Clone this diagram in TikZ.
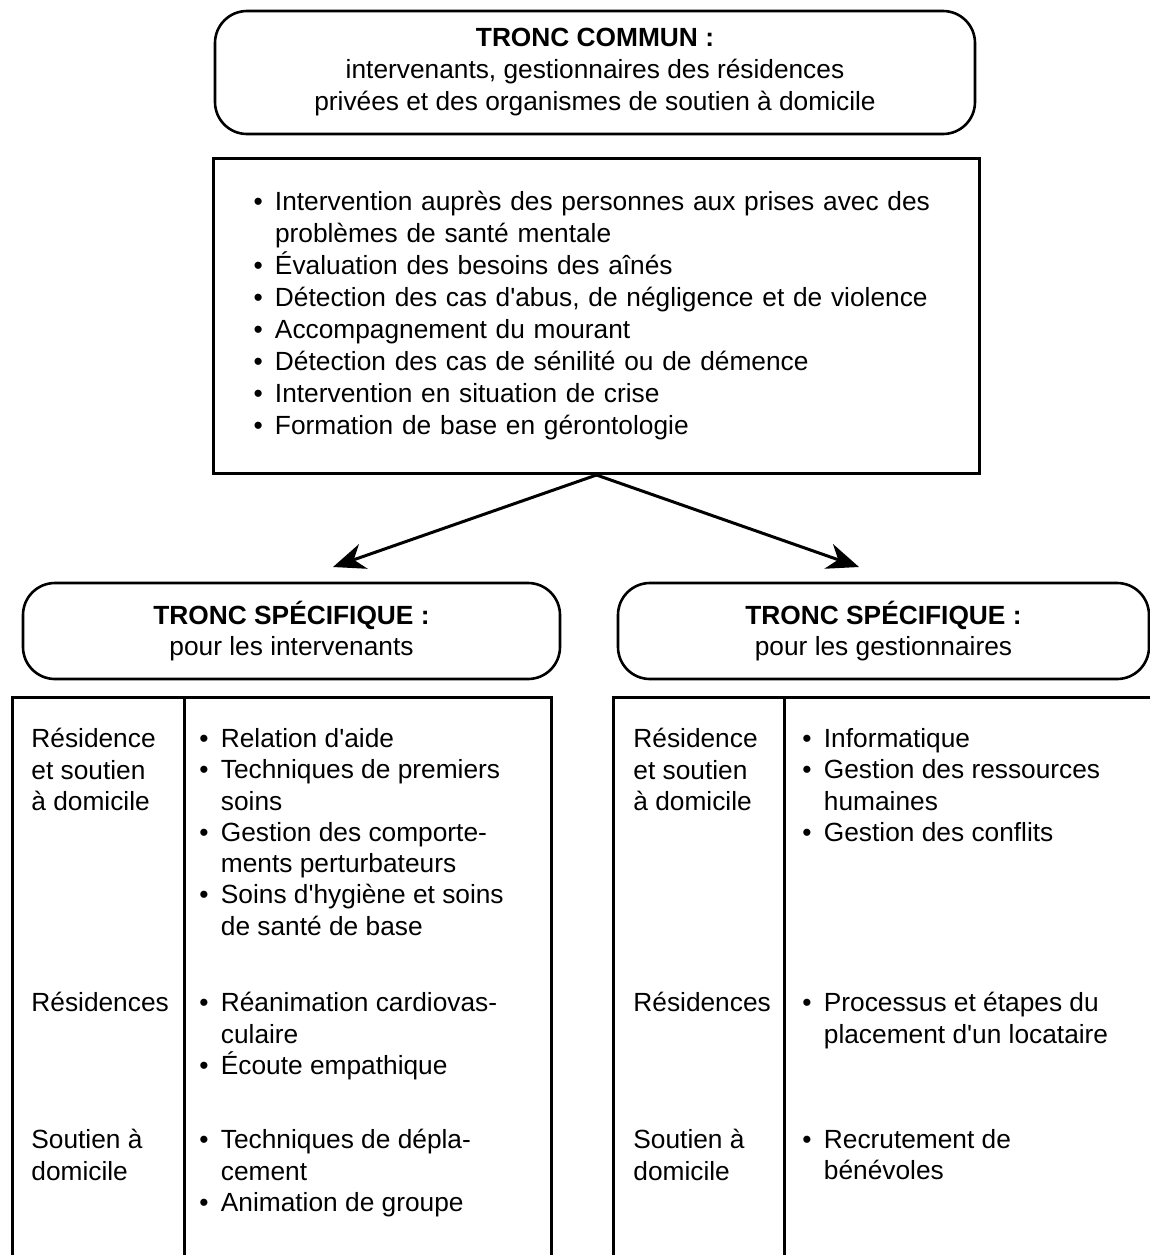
\documentclass[tikz,border=0pt]{standalone}
\usepackage{fontspec}
\setmainfont{Liberation Sans}
\usetikzlibrary{arrows.meta}

\tikzset{
  headbox/.style={draw, line width=1.3pt, rounded corners=16pt, align=center, inner sep=0pt},
  listbox/.style={draw, line width=1.5pt, align=left, inner ysep=0pt, inner xsep=20pt, anchor=north west},
  cell/.style={align=left, inner sep=0pt, anchor=north west},
  grid/.style={line width=1.5pt},
  flow/.style={line width=1.5pt, -{Stealth[length=16pt, width=13pt, inset=5pt]}},
}
\newcommand{\bul}{\makebox[10.75pt][l]{•}}
\newcommand{\ind}{\hspace*{10.75pt}}

\begin{document}
\begin{tikzpicture}[x=0.5pt, y=-0.5pt, font=\fontsize{13.15pt}{15.65pt}\selectfont]
        \useasboundingbox (0,0) rectangle (1150,1255);
        \clip (0,0) rectangle (1150,1255);
        % tronc commun
        \node[headbox, minimum width=380pt, minimum height=61.5pt, font=\fontsize{13.15pt}{16pt}\selectfont] (common) at (595,72.5)
            {\textbf{TRONC COMMUN :}\\intervenants, gestionnaires des résidences\\privées et des organismes de soutien à domicile};
        \node[listbox, text width=343pt, minimum height=157.5pt, font=\fontsize{13.15pt}{16pt}\selectfont] (skills) at (212,157)
            {\bul Intervention auprès des personnes aux prises avec des\\
             \ind problèmes de santé mentale\\
             \bul Évaluation des besoins des aînés\\
             \bul Détection des cas d\textquotesingle abus, de négligence et de violence\\
             \bul Accompagnement du mourant\\
             \bul Détection des cas de sénilité ou de démence\\
             \bul Intervention en situation de crise\\
             \bul Formation de base en gérontologie};
        \coordinate (tipI) at (333,567);
        \coordinate (tipG) at (859,567);
        \draw[flow] (skills.south) -- (tipI);
        \draw[flow] (skills.south) -- (tipG);
        % troncs specifiques
        \node[headbox, minimum width=268.5pt, minimum height=48pt] (specI) at (291.5,631)
            {\textbf{TRONC SPÉCIFIQUE :}\\pour les intervenants};
        \node[headbox, minimum width=265.5pt, minimum height=48pt] (specG) at (883.5,631)
            {\textbf{TRONC SPÉCIFIQUE :}\\pour les gestionnaires};
        % tables
        \draw[grid] (12,1270) |- (551,697) -- (551,1270);
        \draw[grid] (184,697) -- (184,1270);
        \draw[grid] (613,1270) |- (1170,697);
        \draw[grid] (784,697) -- (784,1270);
        % intervenants
        \node[cell] (rowIa) at (31,728) {Résidence\\et soutien\\à domicile};
        \node[cell] (listIa) at (199,728)
            {\bul Relation d\textquotesingle aide\\\bul Techniques de premiers\\\ind soins\\\bul Gestion des comporte-\\\ind ments perturbateurs\\\bul Soins d\textquotesingle hygiène et soins\\\ind de santé de base};
        \node[cell] (rowIb) at (31,992) {Résidences};
        \node[cell] (listIb) at (199,992)
            {\bul Réanimation cardiovas-\\\ind culaire\\\bul Écoute empathique};
        \node[cell] (rowIc) at (31,1129) {Soutien à\\domicile};
        \node[cell] (listIc) at (199,1129)
            {\bul Techniques de dépla-\\\ind cement\\\bul Animation de groupe};
        % gestionnaires
        \node[cell] (rowGa) at (633,728) {Résidence\\et soutien\\à domicile};
        \node[cell] (listGa) at (802,728)
            {\bul Informatique\\\bul Gestion des ressources\\\ind humaines\\\bul Gestion des conflits};
        \node[cell] (rowGb) at (633,992) {Résidences};
        \node[cell] (listGb) at (802,992)
            {\bul Processus et étapes du\\\ind placement d\textquotesingle un locataire};
        \node[cell] (rowGc) at (633,1129) {Soutien à\\domicile};
        \node[cell] (listGc) at (802,1129)
            {\bul Recrutement de\\\ind bénévoles};
\end{tikzpicture}
\end{document}
